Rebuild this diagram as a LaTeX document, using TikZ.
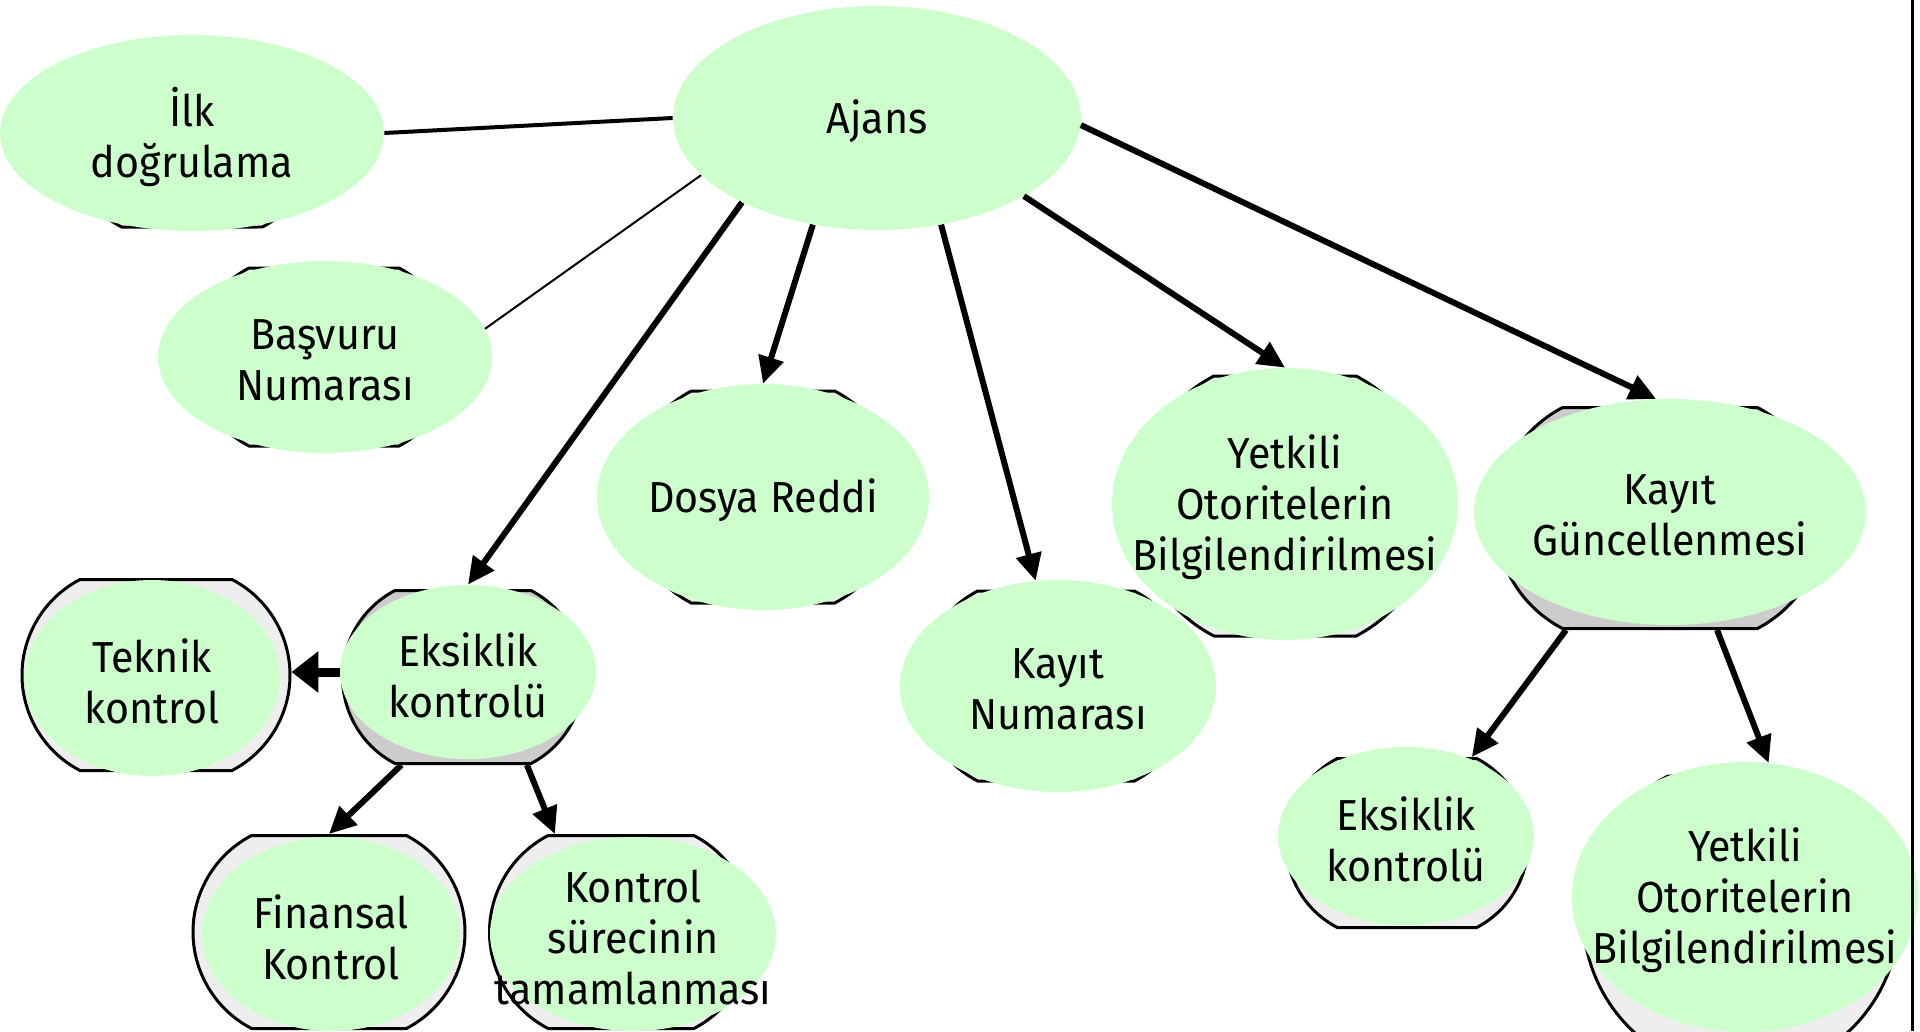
\documentclass[tikz,border=0pt]{standalone}
\usepackage{fontspec}
\setmainfont{Fira Sans}[FakeStretch=0.95]
\usetikzlibrary{shapes.geometric,shapes.misc,arrows.meta}
\definecolor{bubblegreen}{HTML}{CCFFCC}
\definecolor{boxlight}{HTML}{EEEEEE}
\definecolor{boxdark}{HTML}{CCCCCC}
\tikzset{
	bubble/.style={ellipse, fill=bubblegreen, inner sep=0pt},
	backbox/.style={rounded rectangle, rounded rectangle arc length=125, draw=black, line width=0.06cm, fill=#1, inner sep=0pt},
	backbox/.default=boxlight,
	dims/.style 2 args={minimum width=#1*0.02cm, minimum height=#2*0.02cm},
	txt/.style={align=center, inner sep=0pt, yshift=-0.07cm, font=\fontsize{24.7}{29}\selectfont},
	link/.style={line width=0.12cm, -{Triangle[length=0.54cm, width=0.5cm]}},
}

\begin{document}
\begin{tikzpicture}[x=0.02cm, y=-0.02cm]
			%%%%% START %%%%%
			\useasboundingbox (0,0) rectangle (1920,1031);
			
			% boxes behind the bubbles
			\node[backbox, dims={250}{180}] (ilkbox) at (192,137) {};
			\node[backbox, dims={258}{178}] (basbox) at (324,357) {};
			\node[backbox, dims={272}{212}] (dosbox) at (763,497) {};
			\node[backbox, dims={272}{190}] (knobox) at (1056,686) {};
			\node[backbox, dims={300}{260}] (yet1box) at (1285,506) {};
			\node[backbox=boxdark, dims={329}{221}] (kgbox) at (1660,518) {};
			\node[backbox, dims={268}{191}] (tekbox) at (156,675) {};
			\node[backbox=boxdark, dims={241}{173}] (eks1box) at (463,677) {};
			\node[backbox, dims={272}{193}] (finbox) at (329,932) {};
			\node[backbox, dims={263}{193}] (konbox) at (621,932) {};
			\node[backbox, dims={242}{169}] (eks2box) at (1407,843) {};
			\node[backbox, dims={250}{280}] (yet2box) at (1741,916) {};
			
			% bubbles
			\node[bubble, dims={384}{196}, label={[txt]center:İlk\\doğrulama}] (ilk) at (192,133) {};
			\node[bubble, dims={408}{224}, label={[txt]center:Ajans}] (ajans) at (877,118) {};
			\node[bubble, dims={334}{192}, label={[txt]center:Başvuru\\Numarası}] (bas) at (325,357) {};
			\node[bubble, dims={332}{226}, label={[txt]center:Dosya Reddi}] (dos) at (763,497) {};
			\node[bubble, dims={316}{212}, label={[txt]center:Kayıt\\Numarası}] (kno) at (1058,686) {};
			\node[bubble, dims={346}{272}, label={[txt]center:Yetkili\\Otoritelerin\\Bilgilendirilmesi}] (yet1) at (1285,504) {};
			\node[bubble, dims={392}{226}, label={[txt]center:Kayıt\\Güncellenmesi}] (kg) at (1670,512) {};
			\node[bubble, dims={256}{196}, label={[txt]center:Teknik\\kontrol}] (tek) at (152,678) {};
			\node[bubble, dims={256}{174}, label={[txt]center:Eksiklik\\kontrolü}] (eks1) at (468,672) {};
			\node[bubble, dims={258}{194}, label={[txt]center:Finansal\\Kontrol}] (fin) at (331,934) {};
			\node[bubble, dims={286}{194}, label={[txt]center:Kontrol\\sürecinin\\tamamlanması}] (kon) at (633,934) {};
			\node[bubble, dims={256}{178}, label={[txt]center:Eksiklik\\kontrolü}] (eks2) at (1406,836) {};
			\node[bubble, dims={346}{270}, label={[txt]center:Yetkili\\Otoritelerin\\Bilgilendirilmesi}] (yet2) at (1745,897) {};
			
			% connectors
			\draw[line width=0.08cm] (ajans.west) -- (ilk.east);
			\draw[line width=0.04cm] (ajans.198.5) -- (bas.10);
			
			\draw[link] (ajans.212) -- (eks1.north);
			\draw[link] (ajans.239) -- (dos.north);
			\draw[link] (ajans.301) -- (kno.102);
			\draw[link] (ajans.332) -- (yet1.north);
			\draw[link] (ajans.-2) -- (kg.97);
			
			\draw[link, line width=0.18cm, -{Triangle[length=0.54cm, width=0.8cm]}] (eks1.west) -- (eks1.west -| tekbox.east);
			\draw[link] (eks1box.235.5) -- (finbox.north);
			\draw[link] (eks1box.306.3) -- (konbox.124.6);
			
			\draw[link] (kgbox.230.7) -- (eks2box.53.7);
			\draw[link] (kgbox.297.5) -- (yet2.80);
			
			\draw[line width=0.06cm] (1912,0) -- (1912,1031);
			%%%%% END %%%%%
\end{tikzpicture}
\end{document}
